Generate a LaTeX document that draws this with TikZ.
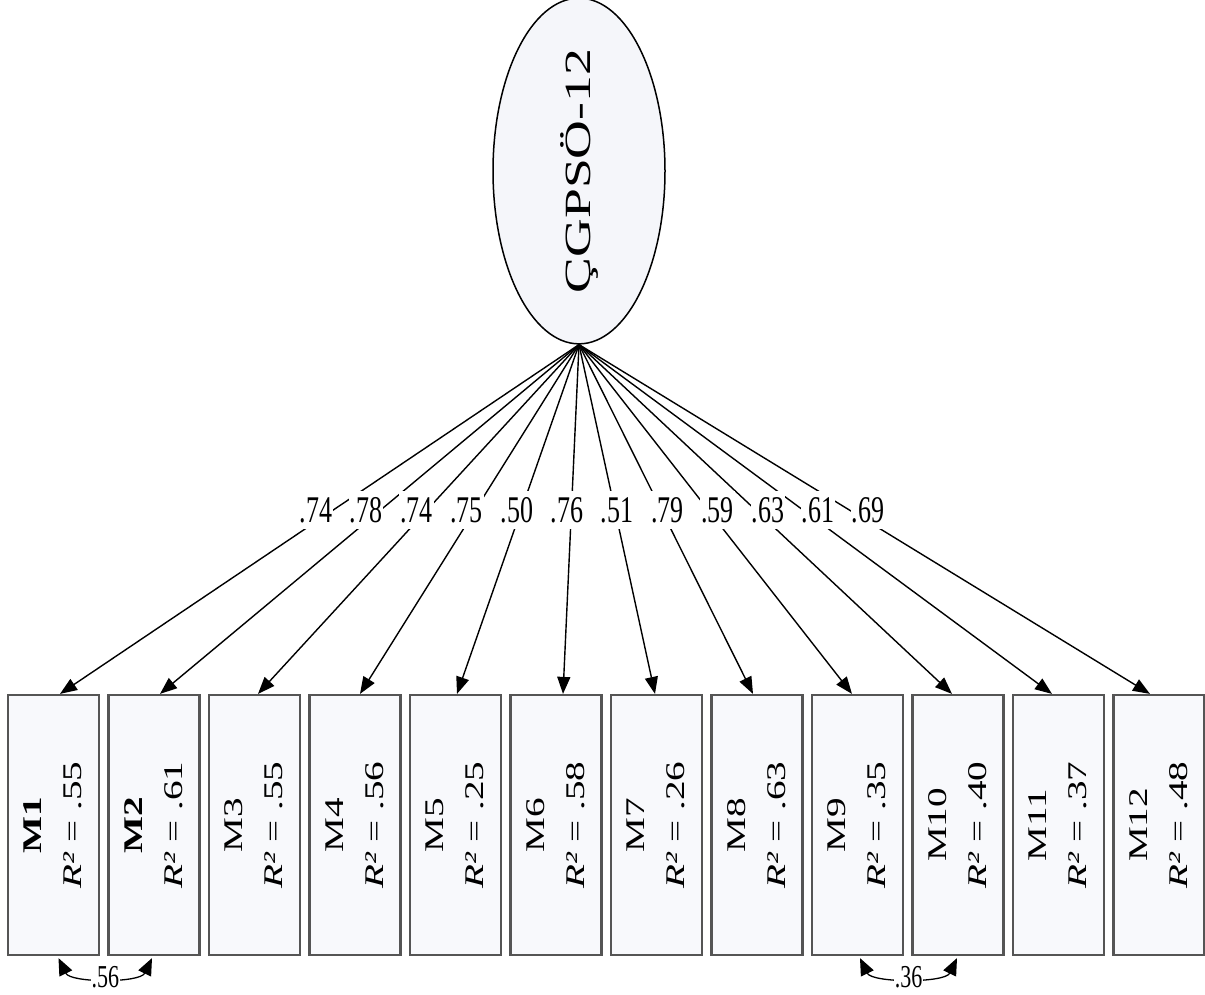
\documentclass[tikz,border=0pt]{standalone}
\usepackage{fontspec}
\setmainfont{Liberation Serif}
\usetikzlibrary{shapes.geometric,arrows.meta,calc}
\definecolor{boxgray}{HTML}{555555}
\definecolor{boxfill}{HTML}{F8F9FC}
\definecolor{ellfill}{HTML}{F5F6FA}
\begin{document}
\begin{tikzpicture}[x=1pt,y=-1pt,
  item/.style={draw=boxgray, line width=2.2pt, fill=boxfill, minimum width=91pt, minimum height=260pt, inner sep=0pt, font=\fontsize{27}{40}\selectfont},
  latent/.style={ellipse, draw=black, line width=1.5pt, fill=ellfill, minimum width=172pt, minimum height=324pt, inner sep=0pt, font=\fontsize{37}{40}\selectfont},
  fan/.style={draw=black, line width=1.4pt, -{Triangle[length=17pt,width=13pt]}},
  lbl/.style={fill=white, inner xsep=1pt, inner ysep=6pt, font=\fontsize{26}{28}\selectfont},
  cov/.style={draw=black, line width=1.3pt, {Triangle[length=17pt,width=14pt]}-{Triangle[length=17pt,width=14pt]}},
  covlbl/.style={fill=white, inner xsep=1pt, inner ysep=1pt, font=\fontsize{22}{24}\selectfont}]
\path[use as bounding box] (0,0) rectangle (1205,994);

\node[latent] (E) at (579,171) {\rotatebox{90}{\scalebox{1.45}[1]{ÇGPSÖ-12}}};

\foreach \i/\lab/\r/\dx in {1/\textbf{M1}/.55/6.5, 2/\textbf{M2}/.61/6, 3/M3/.55/3.5, 4/M4/.56/5,
  5/M5/.25/1.5, 6/M6/.58/7, 7/M7/.26/-1.5, 8/M8/.63/-4, 9/M9/.35/-5.5, 10/M10/.40/-6,
  11/M11/.37/-6.5, 12/M12/.48/-9}{
  \node[item] (M\i) at ({53.5+(\i-1)*100.5},825)
    {\rotatebox{90}{\scalebox{1.45}[1]{\begin{tabular}{@{}c@{}}\lab\\\textit{R²} = \r\end{tabular}}}};
  \coordinate (T\i) at ($(M\i.north)+(\dx,0)$);
  \draw[fan] (E.south) -- (T\i);
}

\foreach \i/\v in {1/.74, 2/.78, 3/.74, 4/.75, 5/.50, 6/.76, 7/.51, 8/.79, 9/.59, 10/.63, 11/.61, 12/.69}{
  \node[lbl] (L\i) at ({316+(\i-1)*50.2},510) {\scalebox{1}[1.45]{\v}};
}

\coordinate (c1a) at ($(M1.south)+(5,2)$);
\coordinate (c1b) at ($(M2.south)+(-2,2)$);
\draw[cov] (c1a) .. controls ($(c1a)+(12,25)$) and ($(c1b)+(-12,25)$) .. (c1b)
  node[midway, covlbl] (C1) {\scalebox{1}[1.45]{.56}};

\coordinate (c2a) at ($(M9.south)+(2.5,2)$);
\coordinate (c2b) at ($(M10.south)+(-1,2)$);
\draw[cov] (c2a) .. controls ($(c2a)+(12,25)$) and ($(c2b)+(-12,25)$) .. (c2b)
  node[midway, covlbl] (C2) {\scalebox{1}[1.45]{.36}};
\end{tikzpicture}
\end{document}
